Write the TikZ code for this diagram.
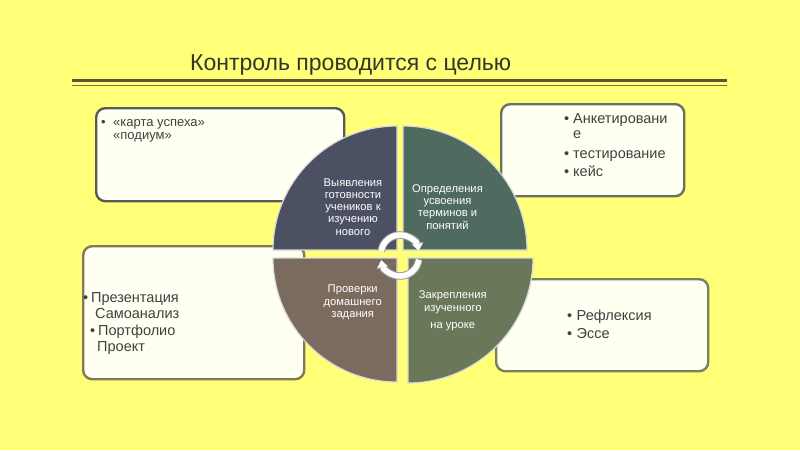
\documentclass[tikz,border=0pt]{standalone}
\usepackage{fontspec}
\setmainfont{Liberation Sans}
\usetikzlibrary{arrows.meta}
\definecolor{bg}{HTML}{FFFF78}
\definecolor{boxfill}{HTML}{FFFFF2}
\definecolor{bordA}{HTML}{5A5A5A}
\definecolor{bordB}{HTML}{687260}
\definecolor{bordC}{HTML}{85765A}
\definecolor{bordD}{HTML}{77805F}
\definecolor{qA}{HTML}{4B5163}
\definecolor{qB}{HTML}{4F6B5F}
\definecolor{qC}{HTML}{7B6B5F}
\definecolor{qD}{HTML}{6A7758}
\definecolor{titlecol}{HTML}{35352A}
\definecolor{txt}{HTML}{404040}
\definecolor{ruleA}{HTML}{5C5530}
\definecolor{ruleB}{HTML}{7A7040}
\tikzset{
  box/.style={draw, fill=boxfill, line width=2.4pt, rounded corners=9pt, anchor=north west, inner sep=0pt},
  quad/.style={draw=white!85!black, line width=1.2pt},
  btxt/.style={anchor=base west, inner sep=0pt, text=txt, font=\fontsize{14.5}{16}\selectfont},
  stxt/.style={anchor=base west, inner sep=0pt, text=txt, font=\fontsize{13}{15}\selectfont},
  qtxt/.style={anchor=base, inner sep=0pt, text=white, font=\fontsize{11.2}{12.5}\selectfont},
  cycout/.style={draw=black!38, line width=7.6pt, -{Triangle[width=12.5pt,length=8pt,line width=0.01pt]}},
  cycin/.style={draw=white, line width=5.6pt, -{Triangle[width=10.2pt,length=6.8pt,line width=0.01pt]}}
}
\begin{document}
\begin{tikzpicture}[x=1pt,y=-1pt]
\fill[bg] (0,0) rectangle (800,450);
\useasboundingbox (0,0) rectangle (800,450);

% title
\node[anchor=base west, inner sep=0pt, text=titlecol, font=\fontsize{23}{27}\selectfont] (title) at (190,70) {Контроль проводится с целью};
\coordinate (r1a) at (72,80.5); \coordinate (r1b) at (727,80.5);
\coordinate (r2a) at (72,85.8); \coordinate (r2b) at (727,85.8);
\draw[ruleA, line width=3pt] (r1a) -- (r1b);
\draw[ruleB, line width=1.1pt] (r2a) -- (r2b);

% boxes
\node[box, draw=bordA, minimum width=248pt, minimum height=93pt] (box1) at (95,107) {};
\node[box, draw=bordB, minimum width=183pt, minimum height=92pt] (box2) at (500,103) {};
\node[box, draw=bordC, minimum width=221pt, minimum height=133pt] (box3) at (82,245) {};
\node[box, draw=bordD, minimum width=212pt, minimum height=92pt] (box4) at (495,278) {};

% box 1 text
\node[stxt] (b1bul) at (101,126.5) {•};
\node[stxt] (b1l1) at (113,126.5) {«карта успеха»};
\node[stxt] (b1l2) at (113,139.5) {«подиум»};

% box 2 text
\node[btxt] (b2bul1) at (564,123) {•};
\node[btxt] (b2l1) at (573,123) {Анкетировани};
\node[btxt] (b2l2) at (573,138) {е};
\node[btxt] (b2bul2) at (564,158) {•};
\node[btxt] (b2l3) at (573,158) {тестирование};
\node[btxt] (b2bul3) at (564,176.5) {•};
\node[btxt] (b2l4) at (573,176.5) {кейс};

% box 3 text
\node[btxt] (b3bul1) at (83,302) {•};
\node[btxt] (b3l1) at (91,302) {Презентация};
\node[btxt] (b3l2) at (95,318.5) {Самоанализ};
\node[btxt] (b3bul2) at (90,335) {•};
\node[btxt] (b3l3) at (98,335) {Портфолио};
\node[btxt] (b3l4) at (97,351) {Проект};

% box 4 text
\node[btxt] (b4bul1) at (567,320) {•};
\node[btxt] (b4l1) at (576.5,320) {Рефлексия};
\node[btxt] (b4bul2) at (567,338.5) {•};
\node[btxt] (b4l2) at (576.5,338.5) {Эссе};

% quadrants
\fill[qA] (397,250) -- ++(-124,0) arc[start angle=180,end angle=270,radius=124] -- cycle;
\draw[quad] (397,250) -- ++(-124,0) arc[start angle=180,end angle=270,radius=124] -- cycle;
\fill[qB] (403,250) -- ++(0,-124) arc[start angle=270,end angle=360,radius=124] -- cycle;
\draw[quad] (403,250) -- ++(0,-124) arc[start angle=270,end angle=360,radius=124] -- cycle;
\fill[qD] (408,258) -- ++(125,0) arc[start angle=0,end angle=90,radius=125] -- cycle;
\draw[quad] (408,258) -- ++(125,0) arc[start angle=0,end angle=90,radius=125] -- cycle;
\fill[qC] (397,258) -- ++(0,124) arc[start angle=90,end angle=180,radius=124] -- cycle;
\draw[quad] (397,258) -- ++(0,124) arc[start angle=90,end angle=180,radius=124] -- cycle;

% quadrant texts
\node[qtxt] (qa1) at (353,186) {Выявления};
\node[qtxt] (qa2) at (353,198.3) {готовности};
\node[qtxt] (qa3) at (353,210.6) {учеников к};
\node[qtxt] (qa4) at (353,222.9) {изучению};
\node[qtxt] (qa5) at (353,235.2) {нового};

\node[qtxt] (qb1) at (447.5,192.5) {Определения};
\node[qtxt] (qb2) at (447.5,204.5) {усвоения};
\node[qtxt] (qb3) at (447.5,216.7) {терминов и};
\node[qtxt] (qb4) at (447.5,229) {понятий};

\node[qtxt] (qc1) at (352.7,292.7) {Проверки};
\node[qtxt] (qc2) at (352.7,305.3) {домашнего};
\node[qtxt] (qc3) at (352.7,317.5) {задания};

\node[qtxt] (qd1) at (452.8,298) {Закрепления};
\node[qtxt] (qd2) at (452.8,311.2) {изученного};
\node[qtxt] (qd3) at (452.8,328) {на уроке};

% cycle arrows
\coordinate (ct) at (400,254);
\coordinate (cb) at (400,257);
\draw[cycout] ([shift={(188:19)}]ct) arc[start angle=188,end angle=350,radius=19];
\draw[cycin]  ([shift={(188:19)}]ct) arc[start angle=188,end angle=350,radius=19];
\draw[cycout] ([shift={(8:19)}]cb) arc[start angle=8,end angle=170,radius=19];
\draw[cycin]  ([shift={(8:19)}]cb) arc[start angle=8,end angle=170,radius=19];
\end{tikzpicture}
\end{document}
